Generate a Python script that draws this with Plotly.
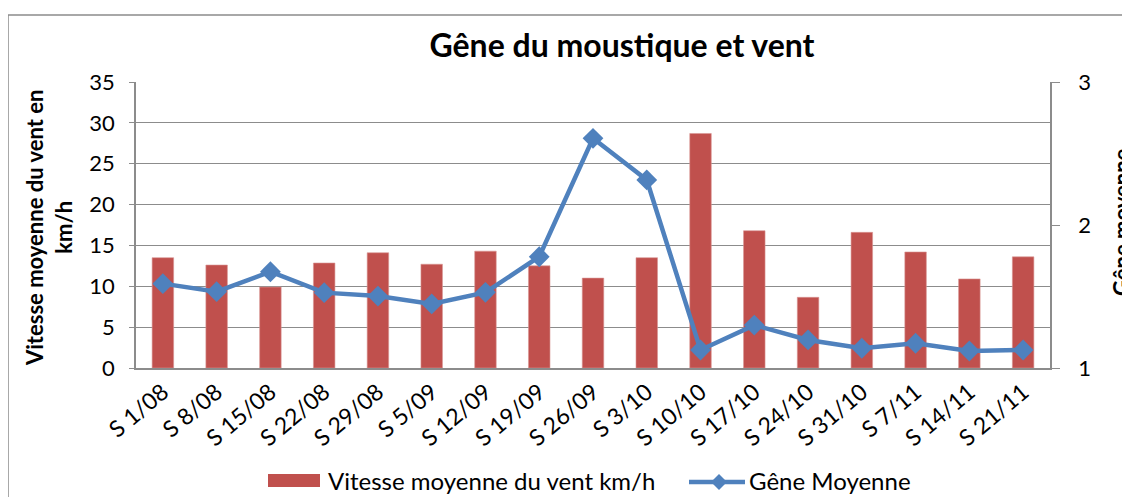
import plotly.graph_objects as go

categories = ["S 1/08", "S 8/08", "S 15/08", "S 22/08", "S 29/08", "S 5/09", "S 12/09",
              "S 19/09", "S 26/09", "S 3/10", "S 10/10", "S 17/10", "S 24/10", "S 31/10",
              "S 7/11", "S 14/11", "S 21/11"]
vent = [13.5, 12.6, 9.9, 12.85, 14.1, 12.7, 14.3, 12.5, 11.0, 13.5, 28.7, 16.8, 8.65,
        16.6, 14.2, 10.9, 13.6]
gene = [1.59, 1.534, 1.673, 1.527, 1.503, 1.448, 1.529, 1.778, 2.606, 2.315, 1.126,
        1.30, 1.196, 1.138, 1.173, 1.119, 1.126]

FONT = "Lato"
BAR_COLOR = "#C0504D"
LINE_COLOR = "#4F81BD"

# page offset (default body margin) and figure size
OFF = 8
W, H = 1130 - OFF, 497 - OFF

# plot area in screen pixels
L, R, T, B = 136, 1050, 82, 368
PW, PH = R - L, B - T


def px(x):
    return (x - L) / PW


def py(y):
    return (B - y) / PH


fig = go.Figure()
fig.add_trace(go.Bar(x=categories, y=vent, name="Vitesse moyenne du vent km/h",
                     marker=dict(color=BAR_COLOR, line=dict(color="#D99694", width=0.6)),
                     yaxis="y", showlegend=False))
fig.add_trace(go.Scatter(x=categories, y=gene, name="Gêne Moyenne", mode="lines+markers",
                         line=dict(color=LINE_COLOR, width=4.5),
                         marker=dict(symbol="diamond", size=16, color=LINE_COLOR),
                         yaxis="y2", showlegend=False))

legend_y = 482
diam_x = 719
shapes = [
    dict(type="rect", xref="paper", yref="paper",
         x0=px(8), x1=px(1145), y0=py(510), y1=py(15),
         line=dict(color="#8C8C8C", width=1.5), fillcolor="rgba(0,0,0,0)", layer="below"),
    dict(type="rect", xref="paper", yref="paper",
         x0=px(268), x1=px(320), y0=py(487), y1=py(474),
         line=dict(width=0), fillcolor=BAR_COLOR),
    dict(type="line", xref="paper", yref="paper",
         x0=px(689), x1=px(745), y0=py(legend_y), y1=py(legend_y),
         line=dict(color=LINE_COLOR, width=4.5)),
    dict(type="path", xref="paper", yref="paper",
         path=f"M {px(diam_x)} {py(legend_y - 8)} L {px(diam_x + 8)} {py(legend_y)} "
              f"L {px(diam_x)} {py(legend_y + 8)} L {px(diam_x - 8)} {py(legend_y)} Z",
         line=dict(width=0), fillcolor=LINE_COLOR),
]

annotations = [
    dict(text="<b>Vitesse moyenne du vent en<br>km/h</b>", textangle=-90,
         xref="paper", yref="paper", x=px(49), y=py(228), xanchor="center",
         yanchor="middle", showarrow=False, font=dict(size=22, family=FONT)),
    dict(text="<b>Gêne moyenne</b>", textangle=-90, xref="paper", yref="paper",
         x=px(1121), y=py(222), xanchor="center", yanchor="middle", showarrow=False,
         font=dict(size=22, family=FONT)),
    dict(text="Vitesse moyenne du vent km/h", xref="paper", yref="paper",
         x=px(326), y=py(481), xanchor="left", yanchor="middle", showarrow=False,
         font=dict(size=24, family=FONT)),
    dict(text="Gêne Moyenne", xref="paper", yref="paper",
         x=px(747), y=py(481), xanchor="left", yanchor="middle", showarrow=False,
         font=dict(size=24, family=FONT)),
]

fig.update_layout(
    width=W, height=H,
    margin=dict(l=L - OFF, r=W - (R - OFF), t=T - OFF, b=H - (B - OFF), autoexpand=False),
    paper_bgcolor="white", plot_bgcolor="white",
    font=dict(family=FONT, size=22, color="#000000"),
    title=dict(text="<b>Gêne du moustique et vent</b>", x=(622 - OFF) / W,
               xanchor="center", y=1 - (46 - OFF) / H, yanchor="middle",
               font=dict(size=32, family=FONT)),
    bargap=0.6,
    showlegend=False,
    xaxis=dict(range=[-0.5, len(categories) - 0.5], tickangle=-40, showline=True,
               linecolor="#8C8C8C", linewidth=1.5, ticks="", tickfont=dict(size=23),
               showgrid=False, automargin=False),
    yaxis=dict(range=[0, 35], dtick=5, showline=True, linecolor="#8C8C8C", linewidth=1.5,
               gridcolor="#8C8C8C", gridwidth=1.2, ticks="outside", ticklen=5,
               tickcolor="#8C8C8C", tickfont=dict(size=22), zeroline=False,
               automargin=False, ticklabelstandoff=10),
    yaxis2=dict(range=[1, 3], dtick=1, overlaying="y", side="right", showline=True,
                linecolor="#8C8C8C", linewidth=1.5, showgrid=False, ticks="outside",
                ticklen=8, tickcolor="#8C8C8C", tickfont=dict(size=22), zeroline=False,
                automargin=False, ticklabelstandoff=14),
    annotations=annotations,
    shapes=shapes,
)

fig.write_html("out.html")
